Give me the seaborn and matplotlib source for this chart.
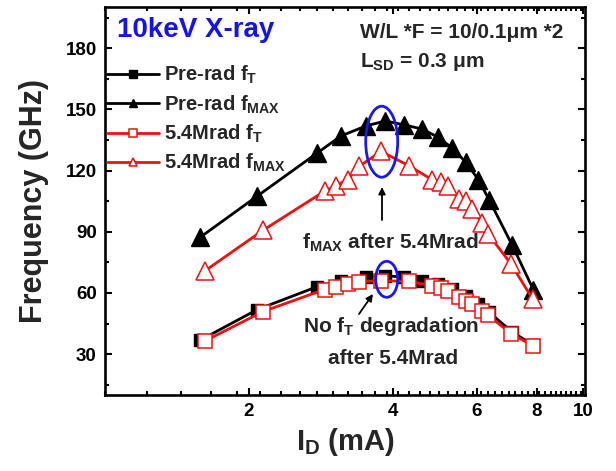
import numpy as np
import matplotlib
matplotlib.use("Agg")
import matplotlib.pyplot as plt
from matplotlib.patches import Ellipse
import seaborn as sns

# ---- data ----
pre_x = [1.58, 2.08, 2.78, 3.12, 3.52, 3.86, 4.23, 4.61, 4.97, 5.33, 5.69, 6.04, 6.36, 7.11, 7.88]
pre_ft = [36.8, 51.8, 63.1, 66.0, 67.7, 68.5, 67.7, 66.0, 64.4, 62.0, 58.7, 54.7, 50.6, 40.9, 34.4]
pre_fmax = [87.2, 107.4, 128.6, 137.0, 141.9, 144.3, 142.4, 140.3, 136.4, 131.0, 124.0, 115.6, 105.8, 83.5, 61.5]

rad_x = [1.62, 2.14, 2.88, 3.04, 3.22, 3.40, 3.78, 4.32, 4.83, 5.04, 5.22, 5.50, 5.68, 5.87, 6.14, 6.34, 7.07, 7.85]
rad_ft = [36.5, 50.9, 61.7, 63.1, 64.4, 65.6, 66.0, 65.7, 63.6, 62.3, 61.2, 58.0, 56.3, 54.7, 51.4, 49.0, 40.1, 34.2]
rad_fmax = [70.9, 90.7, 109.9, 112.6, 115.6, 122.0, 129.4, 122.4, 115.6, 114.3, 112.6, 106.2, 105.0, 101.0, 94.5, 88.8, 74.2, 57.0]

labels = ["Pre-rad $f_{T}$", "Pre-rad $f_{MAX}$", "5.4Mrad $f_{T}$", "5.4Mrad $f_{MAX}$"]
x_ticks = [2, 4, 6, 8, 10]
y_ticks = [30, 60, 90, 120, 150, 180]

sns.set_style("ticks")
plt.rcParams["font.family"] = ["Liberation Sans", "DejaVu Sans"]
plt.rcParams["font.weight"] = "bold"
plt.rcParams["mathtext.fontset"] = "custom"
plt.rcParams["mathtext.rm"] = "Liberation Sans:bold"
plt.rcParams["mathtext.bf"] = "Liberation Sans:bold"
plt.rcParams["mathtext.it"] = "Liberation Sans:bold"
plt.rcParams["mathtext.default"] = "bf"

fig, ax = plt.subplots(figsize=(6.16, 4.71), dpi=100)
fig.subplots_adjust(left=105/616, right=585/616, top=1-7.3/471, bottom=1-395/471)

RED = "#ee1111"
common = dict(ax=ax, sort=False, estimator=None, linewidth=2.0)
sns.lineplot(x=pre_x, y=pre_ft, color="black", marker="s", markersize=9,
             markerfacecolor="black", markeredgecolor="black", markeredgewidth=1.0,
             label=labels[0], **common)
sns.lineplot(x=pre_x, y=pre_fmax, color="black", marker="^", markersize=13.5,
             markerfacecolor="black", markeredgecolor="black", markeredgewidth=1.0,
             label=labels[1], **common)
sns.lineplot(x=rad_x, y=rad_ft, color=RED, marker="s", markersize=9.5,
             markerfacecolor="white", markeredgecolor=RED, markeredgewidth=1.1,
             label=labels[2], **common)
sns.lineplot(x=rad_x, y=rad_fmax, color=RED, marker="^", markersize=13.5,
             markerfacecolor="white", markeredgecolor=RED, markeredgewidth=1.1,
             label=labels[3], **common)

ax.set_xscale("log")
ax.set_xlim(1, 10.1)
ax.set_ylim(10, 200)
ax.set_xticks(x_ticks)
ax.set_xticklabels([str(v) for v in x_ticks])
minor_x = [v for v in np.arange(1, 10.01, 2/9) if all(abs(v - m) > 1e-6 for m in x_ticks)]
ax.set_xticks(minor_x, minor=True)
ax.set_xticklabels([], minor=True)
ax.set_yticks(y_ticks)
ax.set_yticks([15, 45, 75, 105, 135, 165, 195], minor=True)

for s in ax.spines.values():
    s.set_linewidth(1.9)
    s.set_color("black")
ax.tick_params(which="both", direction="in", top=True, right=True, width=1.5, colors="black")
ax.tick_params(which="major", length=5, labelsize=13.5, pad=6)
ax.tick_params(which="minor", length=3)
for t in ax.get_xticklabels() + ax.get_yticklabels():
    t.set_fontweight("bold")

ax.set_xlabel("$I_{D}$ (mA)", fontsize=21, fontweight="bold", labelpad=4)
ax.set_ylabel("Frequency (GHz)", fontsize=22, fontweight="bold", labelpad=12)

leg = ax.legend(loc="upper left", bbox_to_anchor=(0.004, 0.854), frameon=False,
                fontsize=14.5, handlelength=2.6, handletextpad=0.25, labelspacing=0.35,
                borderaxespad=0.0, borderpad=0.0)
for h in leg.legend_handles:
    h.set_markersize(6)
for t in leg.get_texts():
    t.set_fontweight("bold")

def axpos(px, py):
    return ((px - 105) / 480, (395 - py) / 387.7)

ax.text(*axpos(117, 30), "10keV X-ray", transform=ax.transAxes, color="#1414e6",
        fontsize=20, fontweight="bold", ha="left", va="center")
ax.text(*axpos(360, 33), "W/L *F = 10/0.1μm *2", transform=ax.transAxes,
        fontsize=15, fontweight="bold", ha="left", va="center")
ax.text(*axpos(360, 62), "$L_{SD}$ = 0.3 μm", transform=ax.transAxes,
        fontsize=15, fontweight="bold", ha="left", va="center")
ax.text(*axpos(390, 243), "$f_{MAX}$ after 5.4Mrad", transform=ax.transAxes,
        fontsize=15, fontweight="bold", ha="center", va="center")
ax.text(*axpos(391, 327), "No $f_{T}$ degradation", transform=ax.transAxes,
        fontsize=15, fontweight="bold", ha="center", va="center")
ax.text(*axpos(393, 358), "after 5.4Mrad", transform=ax.transAxes,
        fontsize=15, fontweight="bold", ha="center", va="center")

arrow = dict(arrowstyle="-|>", color="black", lw=1.3, mutation_scale=10, shrinkA=0, shrinkB=0)
ax.annotate("", xy=axpos(382, 187), xytext=axpos(382, 220),
            xycoords="axes fraction", textcoords="axes fraction", arrowprops=arrow)
ax.annotate("", xy=axpos(373, 294), xytext=axpos(359, 314),
            xycoords="axes fraction", textcoords="axes fraction", arrowprops=arrow)

c1 = axpos(381.7, 141.7)
ax.add_patch(Ellipse(c1, 32/480, 71/387.7, transform=ax.transAxes, fill=False,
                     edgecolor="#1a1ae6", linewidth=2.0, zorder=5))
c2 = axpos(386.7, 279.3)
ax.add_patch(Ellipse(c2, 22/480, 36/387.7, transform=ax.transAxes, fill=False,
                     edgecolor="#1a1ae6", linewidth=2.0, zorder=5))

fig.savefig("out.png", dpi=100)
